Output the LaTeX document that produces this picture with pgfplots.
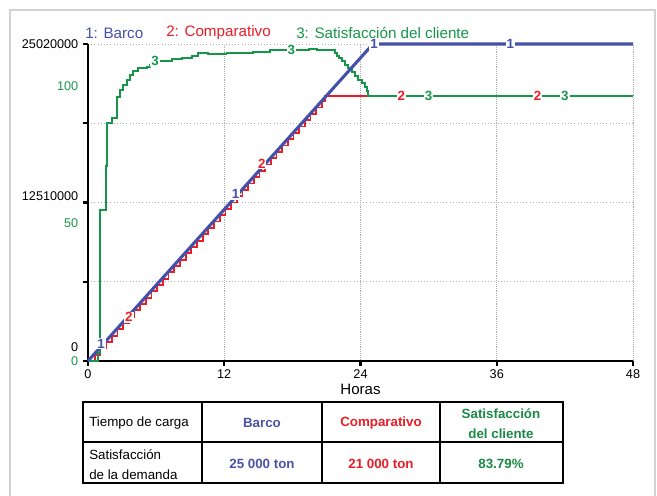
\documentclass[border=0pt]{standalone}
\usepackage{pgfplots}
\pgfplotsset{compat=1.18}
\usepackage{fontspec}
\setmainfont{Liberation Sans}
\definecolor{blueC}{RGB}{67,80,170}
\definecolor{redC}{RGB}{237,28,36}
\definecolor{greenC}{RGB}{23,150,74}
\definecolor{tblue}{RGB}{75,82,168}
\definecolor{tgreen}{RGB}{26,138,69}
\pgfplotstableread{
x y
0 0
0.1 0
0.6 500000
1.1 1000000
1.6 1500000
2.1 2000000
2.6 2500000
3.1 3000000
3.6 3500000
4.1 4000000
4.6 4500000
5.1 5000000
5.6 5500000
6.1 6000000
6.6 6500000
7.1 7000000
7.6 7500000
8.1 8000000
8.6 8500000
9.1 9000000
9.6 9500000
10.1 10000000
10.6 10500000
11.1 11000000
11.6 11500000
12.1 12000000
12.6 12500000
13.1 13000000
13.6 13500000
14.1 14000000
14.6 14500000
15.1 15000000
15.6 15500000
16.1 16000000
16.6 16500000
17.1 17000000
17.6 17500000
18.1 18000000
18.6 18500000
19.1 19000000
19.6 19500000
20.1 20000000
20.6 20500000
20.9 20900000
48 20900000
}\redtable
\pgfplotstableread{
x y
0 0
0.85 0
0.85 3
1.08 3
1.08 55
1.58 55
1.58 71
1.64 71
1.64 86.4
2.08 86.4
2.08 88.5
2.52 88.5
2.52 96.1
2.82 96.1
2.82 98.5
3.11 98.5
3.11 100.4
3.41 100.4
3.41 102.2
3.70 102.2
3.70 104
4.0 104
4.0 105.5
4.43 105.5
4.43 106.4
5.17 106.4
5.17 107
5.46 107
5.46 107.6
5.75 107.6
5.75 109.1
7.37 109.1
7.37 109.8
8.25 109.8
8.25 110.3
9.13 110.3
9.13 111
9.72 111
9.72 111.9
10.6 111.9
10.6 111.5
12.2 111.5
12.2 112
14.5 112
14.5 112.5
16.0 112.5
16.0 113.1
19.5 113.1
19.5 113.6
20.2 113.6
20.2 113.1
21.6 113.1
21.75 113.1
21.75 111.9
21.9 111.9
21.9 111
22.13 111
22.13 110.1
22.34 110.1
22.34 109.1
22.64 109.1
22.64 107.6
22.93 107.6
22.93 106.4
23.22 106.4
23.22 105
23.52 105
23.52 103.7
23.81 103.7
23.81 102.2
24.1 102.2
24.1 101
24.4 101
24.4 99.7
24.55 99.7
24.55 98.2
24.69 98.2
24.69 96.3
48 96.3
}\greentable
\begin{document}
\begin{tikzpicture}
\useasboundingbox (0,0) rectangle (492.75pt,372pt);
\begin{scope}[shift={(0pt,372pt)}, x=0.75pt, y=-0.75pt]
 \draw[gray!35, line width=0.9pt] (10,10) rectangle (655,540);
 \node[anchor=west, inner sep=0, text=blueC, font=\fontsize{11.4}{13}\selectfont] at (85,33) {1: Barco};
 \node[anchor=west, inner sep=0, text=redC, font=\fontsize{11.4}{13}\selectfont] at (166,33) {2: Comparativo};
 \node[anchor=west, inner sep=0, text=greenC, font=\fontsize{11.4}{13}\selectfont] at (296,33) {3: Satisfacción del cliente};
 % table
 \draw[black, line width=1.5pt] (83,402) rectangle (563,483);
 \draw[black, line width=1.5pt] (83,442) -- (563,442);
 \draw[black, line width=1.5pt] (202,402) -- (202,483);
 \draw[black, line width=1.5pt] (322,402) -- (322,483);
 \draw[black, line width=1.5pt] (440,402) -- (440,483);
 \node[anchor=west, inner sep=0, font=\fontsize{10}{15}\selectfont] at (89,423) {Tiempo de carga};
 \node[anchor=west, align=left, inner sep=0, font=\fontsize{10}{15}\selectfont] at (89,465) {Satisfacción\\de la demanda};
 \node[inner sep=0, text=tblue, font=\bfseries\fontsize{10}{15}\selectfont] at (262,423) {Barco};
 \node[inner sep=0, text=redC, font=\bfseries\fontsize{10}{15}\selectfont] at (381,423) {Comparativo};
 \node[align=center, inner sep=0, text=tgreen, font=\bfseries\fontsize{10}{15}\selectfont] at (501,424) {Satisfacción\\del cliente};
 \node[inner sep=0, text=tblue, font=\bfseries\fontsize{10}{15}\selectfont] at (262,464) {25 000 ton};
 \node[inner sep=0, text=redC, font=\bfseries\fontsize{10}{15}\selectfont] at (381,464) {21 000 ton};
 \node[inner sep=0, text=tgreen, font=\bfseries\fontsize{10}{15}\selectfont] at (501,464) {83.79\%};
\end{scope}
% axis 1: frame, grid, red
\begin{axis}[
  at={(66pt,101.25pt)}, anchor=south west,
  scale only axis, width=408.75pt, height=237.75pt,
  xmin=0, xmax=48, ymin=0, ymax=25020000,
  axis lines*=left, axis line style={line width=2.2pt, -},
  xtick={0,12,24,36,48}, xticklabels={0,12,24,36,48},
  ytick={0,6255000,12510000,18765000,25020000},
  yticklabels={\smash{\raisebox{7pt}{0}},{},\smash{\raisebox{1.2pt}{12510000}},{},25020000},
  scaled y ticks=false,
  tick style={black, line width=1.6pt},
  major tick length=3.75pt, tick align=outside,
  xmajorgrids, ymajorgrids,
  x grid style={gray!65, densely dotted, line width=0.7pt},
  y grid style={gray!65, dotted, line width=0.7pt},
  ticklabel style={font=\fontsize{9.5}{11}\selectfont},
  xticklabel style={yshift=1pt},
  /pgf/number format/assume math mode=true,
  xlabel={Horas},
  xlabel style={at={(axis description cs:0.5,0)}, anchor=base, yshift=-25pt, font=\fontsize{11.3}{13}\selectfont, inner sep=0},
]
\addplot[const plot mark left, redC, line width=1.3pt] table[x=x,y=y] {\redtable};
\end{axis}
% axis 2: green
\begin{axis}[
  at={(66pt,101.25pt)}, anchor=south west,
  scale only axis, width=408.75pt, height=237.75pt,
  xmin=0, xmax=48, ymin=0, ymax=115.27,
  hide x axis, axis y line*=left, y axis line style={draw=none},
  ytick={0,50,100}, yticklabels={0,50,100}, major tick length=0pt,
  yticklabel style={text=greenC, font=\fontsize{9.5}{11}\selectfont, xshift=-3.75pt},
  clip=false,
]
\addplot[greenC, line width=1.4pt] table[x=x,y=y] {\greentable};
\addplot[only marks, mark=none, nodes near coords, point meta=explicit symbolic,
  every node near coord/.style={anchor=center, fill=white, inner sep=0.7pt, text=greenC, font=\bfseries\fontsize{10}{10}\selectfont}]
  coordinates {(5.9,109.1)[3] (17.9,113.1)[3] (30,96.3)[3] (42,96.3)[3]};
\end{axis}
% axis 3: blue and labels
\begin{axis}[
  at={(66pt,101.25pt)}, anchor=south west,
  scale only axis, width=408.75pt, height=237.75pt,
  xmin=0, xmax=48, ymin=0, ymax=25020000,
  hide axis, clip=false,
]
\addplot[blueC, line width=2.3pt] coordinates {(0,0) (25.1,25020000) (48,25020000)};
\addplot[only marks, mark=none, nodes near coords, point meta=explicit symbolic,
  every node near coord/.style={anchor=center, fill=white, inner sep=0.7pt, text=blueC, font=\bfseries\fontsize{10}{10}\selectfont}]
  coordinates {(1.15,1350000)[1] (13,13150000)[1] (25.2,25020000)[1] (37.2,25020000)[1]};
\addplot[only marks, mark=none, nodes near coords, point meta=explicit symbolic,
  every node near coord/.style={anchor=center, fill=white, inner sep=0.7pt, text=redC, font=\bfseries\fontsize{10}{10}\selectfont}]
  coordinates {(3.6,3450000)[2] (15.3,15600000)[2] (27.6,20900000)[2] (39.6,20900000)[2]};
\end{axis}
\end{tikzpicture}
\end{document}
